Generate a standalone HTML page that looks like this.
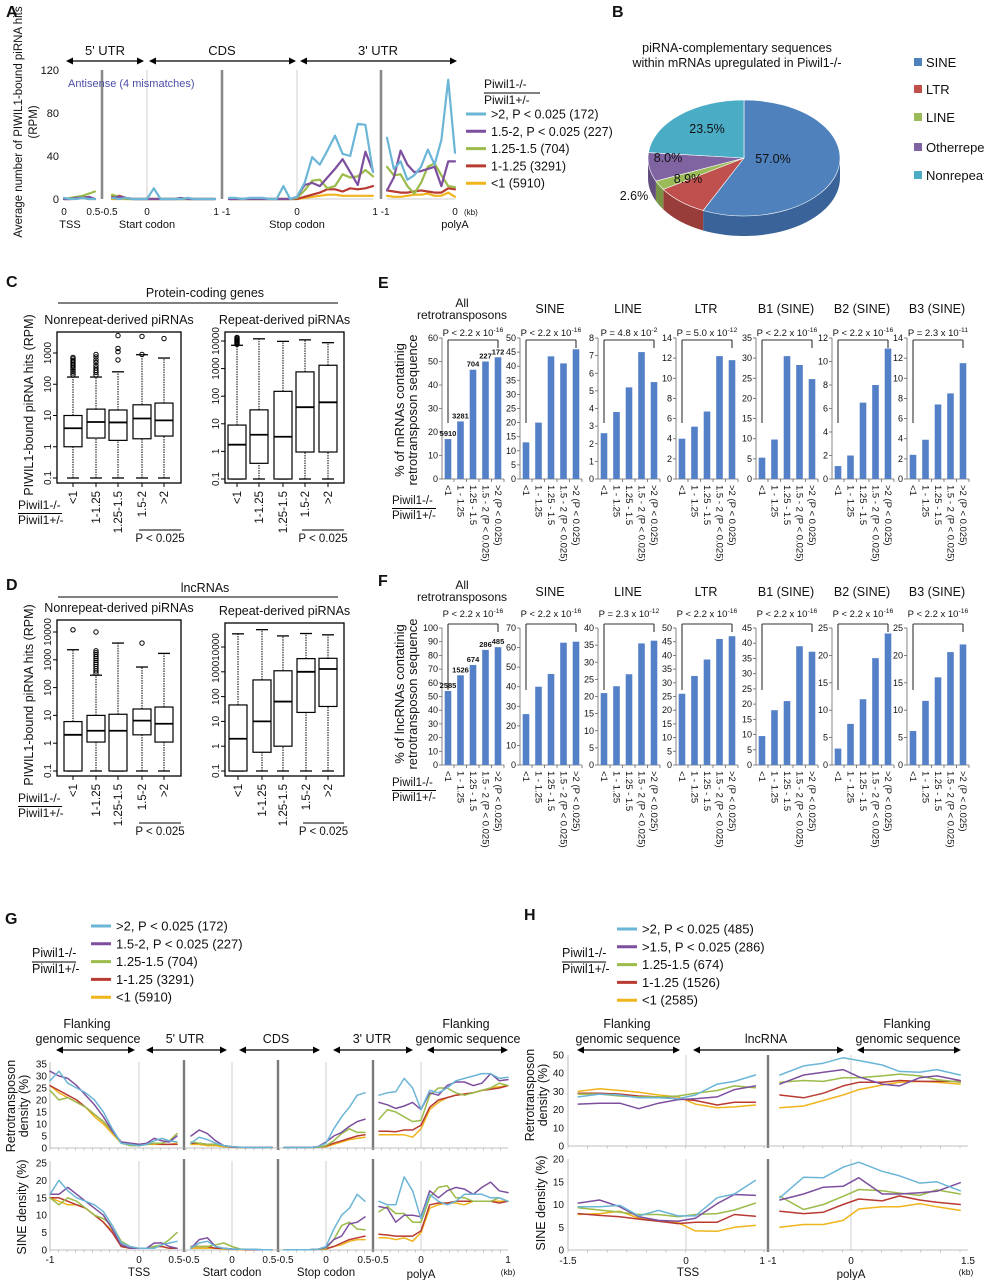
<!DOCTYPE html>
<html><head><meta charset="utf-8">
<style>
body{margin:0;background:#fff}
svg{display:block;font-family:"Liberation Sans",Arial,sans-serif}
</style></head>
<body>
<svg id="fig" width="984" height="1280" viewBox="0 0 984 1280" xmlns="http://www.w3.org/2000/svg">
<rect width="984" height="1280" fill="#ffffff"/>
</svg>
<script>
// ---------------- DATA ----------------
const SERIES_NAMES=['gt2','r1p5-2','r1p25-1p5','r1-1p25','lt1'];
const A_LEGEND=['>2, P < 0.025 (172)','1.5-2, P < 0.025 (227)','1.25-1.5 (704)','1-1.25 (3291)','<1 (5910)'];
const A_X1=[0,0.1,0.2,0.3,0.4,0.5];
const A_X2=[-0.5,-0.4,-0.3,-0.2,-0.1,0];
const A_X3=[0,0.1,0.2,0.3,0.4,0.5,0.6,0.7,0.8,0.9,1];
const A_X4=[-1,-0.9,-0.8,-0.7,-0.6,-0.5,-0.4,-0.3,-0.2,-0.1,0,0.1,0.2,0.3,0.4,0.5,0.6,0.7,0.8,0.9,1];
const A_X5=[-1,-0.9,-0.8,-0.7,-0.6,-0.5,-0.4,-0.3,-0.2,-0.1,0];
const A_GT2=[[1,0,0,1,0,0],[1,0,1,0,0,0],[0,10,0,0,0,0,1,0,0,0,0],[1,1,0,1,1,1,0,0,12,0,2,15,39,32,45,59,42,40,70,69,25],[57,28,35,18,22,30,46,32,55,111,43]];
const A_R15=[[0,0,1,1,2,0],[1,2,1,0,0,0],[0,0,0,0,0,1,0,0,0,0,0],[0,0,0,0,0,0,0,0,0,0,2,13,15,12,20,28,37,25,13,44,26],[8,20,45,32,25,26,28,30,12,35,35]];
const A_R125=[[0,1,2,3,5,7],[4,2,0,0,0,0],[0,0,0,0,0,0,0,0,0,0,0],[0,0,0,0,0,0,0,0,0,0,1,8,17,18,10,12,23,20,21,27,21],[30,22,23,12,5,15,30,33,22,12,11]];
const A_R1=[[0,0,1,2,1,0],[2,3,1,0,0,0],[0,0,0,0,0,0,0,0,0,0,0],[0,0,0,0,0,0,0,0,0,0,0,2,4,6,9,9,7,10,9,10,12],[8,7,6,6,7,8,7,6,6,10,9]];
const A_LT1=[[0,0,1,1,0,0],[0,0,0,0,0,0],[0,0,0,0,0,0,0,0,0,0,0],[0,0,0,0,0,0,0,0,0,0,0,1,2,3,4,4,3,3,3,3,3],[3,2,2,3,4,4,5,3,3,6,2]];
const A_YTICKS=[0,40,80,120];

const B_LABELS=['SINE','LTR','LINE','Otherrepeats','Nonrepeat'];
const B_PCT=[57.0,8.9,2.6,8.0,23.5];

const BOX_CATS=['<1','1-1.25','1.25-1.5','1.5-2','>2'];
const LOG_TICKS_C=[0.1,1,10,100,1000];
const LOG_TICKS_R=[0.1,1,10,100,1000,10000];
const CL_LO=[0.1,0.1,0.1,0.1,0.1], CL_Q1=[1,1.9,1.6,1.8,2.2], CL_MED=[3.9,6.2,6,8,7], CL_Q3=[10,16,15,22,25], CL_HI=[170,170,250,880,690];
const CL_OUT=[[200,230,260,300,340,380,420,470,520,580,650,720],[200,240,280,330,400,500,600,750,900],[600,1100,1400,3600],[900,3400],[2900]];
const CR_LO=[0.1,0.1,0.1,0.1,0.1], CR_Q1=[0.1,0.37,0.1,0.95,0.95], CR_MED=[1.75,4,3.4,40,60], CR_Q3=[9,32,150,760,1320], CR_HI=[7000,12000,9700,11000,8700];
const CR_OUT=[[7600,8300,9000,9800,10600,11500,12500,13500],[],[],[],[]];
const DL_LO=[0.1,0.1,0.1,0.1,0.1], DL_Q1=[0.1,1.1,0.1,2,1.1], DL_MED=[2,2.8,2.8,6.5,5], DL_Q3=[6,10,11,17,20], DL_HI=[2300,280,4000,550,1700];
const DL_OUT=[[12000],[330,400,480,570,680,800,950,1100,1300,1550,1800,2100,10000],[],[4000],[]];
const DR_LO=[0.1,0.1,0.1,0.1,0.1], DR_Q1=[0.1,0.57,1,23,40], DR_MED=[2,10,63,1000,1300], DR_Q3=[46,470,1100,3400,3500], DR_HI=[34000,50000,28000,35000,31000];
const DR_OUT=[[],[],[],[],[]];

const BAR_CATS=['<1','1 - 1.25','1.25 - 1.5','1.5 - 2 (P < 0.025)','>2 (P < 0.025)'];
const E_TITLES=['SINE','LINE','LTR','B1 (SINE)','B2 (SINE)','B3 (SINE)'];
const E_ALL=[17,24.5,46.5,50,51.8];
const E_ALL_COUNTS=['5910','3281','704','227','172'];
const E_SINE=[13,20,43.5,41,46];
const E_LINE=[2.6,3.8,5.2,7.2,5.5];
const E_LTR=[4,5.2,6.7,12.2,11.8];
const E_B1=[5.3,9.8,30.5,28.3,24.8];
const E_B2=[1.1,2,6.5,8,11.1];
const E_B3=[2.4,3.9,7.4,8.5,11.5];
const E_TICKS=[[0,10,20,30,40,50,60],[0,5,10,15,20,25,30,35,40,45,50],[0,1,2,3,4,5,6,7,8],[0,2,4,6,8,10,12,14],[0,5,10,15,20,25,30,35],[0,2,4,6,8,10,12],[0,2,4,6,8,10,12,14]];
const E_P=[['P < 2.2 x 10','-16'],['P < 2.2 x 10','-16'],['P = 4.8 x 10','-2'],['P = 5.0 x 10','-12'],['P < 2.2 x 10','-16'],['P < 2.2 x 10','-16'],['P = 2.3 x 10','-11']];
const F_ALL=[54,65.5,73,84,86];
const F_ALL_COUNTS=['2585','1526','674','286','485'];
const F_SINE=[26,40,46.5,62.5,63];
const F_LINE=[21,23,26.5,35.5,36.3];
const F_LTR=[26,32.5,38.5,46,47];
const F_B1=[9.5,18,21,39,37.2];
const F_B2=[3,7.5,12,19.5,24];
const F_B3=[6.2,11.7,16,20.6,22];
const F_TICKS=[[0,10,20,30,40,50,60,70,80,90,100],[0,10,20,30,40,50,60,70],[0,5,10,15,20,25,30,35,40],[0,5,10,15,20,25,30,35,40,45,50],[0,5,10,15,20,25,30,35,40,45],[0,5,10,15,20,25],[0,5,10,15,20,25]];
const F_P=[['P < 2.2 x 10','-16'],['P < 2.2 x 10','-16'],['P = 2.3 x 10','-12'],['P < 2.2 x 10','-16'],['P < 2.2 x 10','-16'],['P < 2.2 x 10','-16'],['P < 2.2 x 10','-16']];

const G_X1=[-1,-0.9,-0.8,-0.7,-0.6,-0.5,-0.4,-0.3,-0.2,-0.1,0,0.1,0.2,0.3,0.4,0.5];
const G_X23=[-0.5,-0.4,-0.3,-0.2,-0.1,0,0.1,0.2,0.3,0.4,0.5];
const G_X4=[-0.5,-0.4,-0.3,-0.2,-0.1,0,0.1,0.2,0.3,0.4,0.5,0.6,0.7,0.8,0.9,1];
const G_RT_GT2=[[28,32,27,25,23,20,15,8,2,1.5,1,1.5,3,4,3,2.5],[2,4.5,3.5,2,1,0.5,0.3,0.2,0.2,0.2,0.2],[0.2,0.2,0.2,0.2,0.5,2,8,13,17,22,23],[22,23,23.5,29,25,16,24,23,25,28,29,30,31,31,29,29.5]];
const G_RT_R15=[[32,30,29,26,22,18,13,7,2.5,2,1.5,2,4,3,2.5,5],[5,7.5,6,3,1,0.5,0.3,0.2,0.2,0.2,0.3],[0.2,0.2,0.2,0.2,0.5,2.5,5,6.5,9,11,12],[19,18,16.5,17.5,19,16,23,22,26,27.5,27.5,26,27,31,28,28.5]];
const G_RT_R125=[[24,20,21,19,17,14,11,7,2,1,1,1.5,2,2,3,6],[2.5,2,1.5,1.5,1,0.5,0.2,0.2,0.2,0.2,0.2],[0.2,0.2,0.2,0.2,0.3,1,3,6,8,6.5,6.5],[12,16,15,13,11,11.5,22,25,25,23,22,23,24,25,27,26]];
const G_RT_R1=[[26,24,22,20,17,14,11,7,2.5,2,1.5,1.5,2,1.5,1.5,1.5],[2,2,1.5,1.5,1,0.3,0.2,0.2,0.2,0.2,0.2],[0.2,0.2,0.2,0.2,0.3,0.8,2,3,4,5,5.5],[7,7,6.8,7.5,7.5,9.5,17,20,21,22,22.5,23,24,24.5,25,26]];
const G_RT_LT1=[[26,23,21,19,17,13,10,6,2,1.5,1,1.5,1.5,1.5,1.5,2],[1.5,1.5,1,1,0.5,0.3,0.2,0.2,0.2,0.2,0.2],[0.2,0.2,0.2,0.2,0.3,0.6,1.5,2.5,3.5,4,4.5],[5.5,5.5,5.5,5.5,4.5,8,16,19,21,22,22.5,23,24,25,25.5,26]];
const G_SN_GT2=[[16,20,17,15,14,13,11,7,2,1,0.5,0.5,0.5,1.5,2,2.5],[0.5,2,2.5,1,0.5,0.3,0.2,0.2,0.2,0.1,0.1],[0.1,0.1,0.1,0.1,0.2,1,6,10,12,16,14],[14,13,13,21,17,9,16,14,13,14,16,16,16,15,15,14]];
const G_SN_R15=[[16,16,18,16,14,12,10,6,1.5,0.5,0.5,0.5,2,2,1,0.5],[0.5,3,3.5,1,0.5,0.2,0.2,0.2,0.1,0.1,0.1],[0.1,0.1,0.1,0.1,0.2,0.8,3,4,7.5,8,9.5],[12.5,12,8,10,10,9.5,17,15,17,18,17.5,16,18,19.5,17,16.5]];
const G_SN_R125=[[15,13,15,14,12,10,9,7,2.5,1,0.5,0.5,1,1.5,3,5],[1,1,1,1.5,2,1,0.3,0.2,0.1,0.1,0.1],[0.1,0.1,0.1,0.1,0.2,0.5,3,7,8,6,5.8],[11,12.5,10.5,10.5,8,8,15,18,18.5,15,15,14,14,14,15,14]];
const G_SN_R1=[[15,15,14,13,12,10,8,5,1,0.5,0.5,0.5,1,1,0.5,0.5],[1,1,1,0.5,0.5,0.3,0.2,0.1,0.1,0.1,0.1],[0.1,0.1,0.1,0.1,0.2,0.4,1,2,3,3.5,4],[4.5,4.3,4,4,4,5.5,13,13.5,13.5,14,14,14,14,14,13.5,14]];
const G_SN_LT1=[[15,14,13,13,12,10,8,5.5,1,0.5,0.5,0.5,1,1,0.5,0.5],[0.5,0.5,0.5,0.5,0.3,0.2,0.1,0.1,0.1,0.1,0.1],[0.1,0.1,0.1,0.1,0.2,0.3,1,1.5,2.5,3,3],[3.5,3.5,3,3.5,2.5,5,12,13,13.5,13.5,13,14,14,14,14,14]];
const G_RT_TICKS=[0,5,10,15,20,25,30,35];
const G_SN_TICKS=[0,5,10,15,20,25];

const H_LEGEND=['>2, P < 0.025 (485)','>1.5, P < 0.025 (286)','1.25-1.5 (674)','1-1.25 (1526)','<1 (2585)'];
const H_X1=[-1.37,-1.1,-0.84,-0.6,-0.35,-0.1,0.12,0.4,0.62,0.89];
const H_X2=[-0.9,-0.6,-0.35,-0.1,0.1,0.4,0.62,0.88,1.1,1.4];
const H_RT_GT2=[[27,28.5,28,26.5,26.5,26,28,34,35.5,39],[39,44,45.5,48.5,47,44.5,41,40.5,42,39]];
const H_RT_R15=[[23,23.5,23.5,20.5,23.5,25.5,26,27,31,33],[34,39,40.5,42,38,34,33,37.5,38.5,36]];
const H_RT_R125=[[28.5,28.5,27.5,27,27,27.5,29,30.5,33,32],[35,36,35.5,37.5,37.5,38.5,39.5,38.5,36.5,35]];
const H_RT_R1=[[29,29,28.5,27.5,27,26,25,22.5,24,24],[28,26.5,29,33,35,35,36,35.5,35.5,35.5]];
const H_RT_LT1=[[30,31.5,30.5,29.5,28,27,23,21,21.5,22.5],[21,22,25,28,31,33.5,35,35.5,35,34]];
const H_SN_GT2=[[9.5,9.5,9.8,7.5,8.7,7.5,7.5,11.5,12.3,15.3],[11.5,16,15.9,18.2,19.3,17.3,16.3,14.7,15,13]];
const H_SN_R15=[[10.3,11,9.5,7.3,6.5,6.3,7,10.2,12.2,12],[11,12.3,13.8,14,15.9,12.3,12.3,12.6,12.9,14.8]];
const H_SN_R125=[[9.3,8.8,8.3,7.8,7.8,7.3,7.8,8,8.8,10.3],[11.8,8.9,10,11.8,13.3,13,12.5,12,13.2,12.3]];
const H_SN_R1=[[8,7.6,7.3,6.8,6.3,5.8,6.1,6.1,7.8,7.4],[8.5,8,8.3,10,11.2,10.8,11.9,11,10.5,10]];
const H_SN_LT1=[[7.8,8,8.5,7,6.3,6,4.2,4.1,5,5.4],[5,5.6,5.6,6.5,9,9.5,9.5,10.2,9.5,8.7]];
const H_RT_TICKS=[0,10,20,30,40,50];
const H_SN_TICKS=[0,5,10,15,20];

// ---------------- HELPERS ----------------
const NS='http://www.w3.org/2000/svg';
const svg=document.getElementById('fig');
const C5=['#6bb5d6','#7d4f9e','#9bbb4a','#b83a33','#f0b41c'];
const PIE_COLORS=['#4f81bd','#c0504d','#9bbb59','#8064a2','#4bacc6'];
const PIE_SIDE=['#3a6499','#983d3a','#7a9446','#624d7f','#3a8aa1'];
const BAR_COLOR='#5480c8';
function mk(tag,attrs,name,parent){
  const e=document.createElementNS(NS,tag);
  for(const k in attrs) e.setAttribute(k,attrs[k]);
  
  
  (parent||svg).appendChild(e);
  return e;
}
function T(x,y,s,o,name){
  o=o||{};
  const e=mk('text',{x:x,y:y,'font-size':o.fs||11,'text-anchor':o.a||'start',fill:o.fill||'#111','font-weight':o.w||'normal'},name);
  if(o.rot!==undefined) e.setAttribute('transform','rotate('+o.rot+' '+x+' '+y+')');
  e.textContent=s;
  return e;
}
function L(x1,y1,x2,y2,st,sw,name,dash){
  const e=mk('line',{x1:x1,y1:y1,x2:x2,y2:y2,stroke:st||'#000','stroke-width':sw||1},name);
  if(dash) e.setAttribute('stroke-dasharray',dash);
  return e;
}
function arrow(x1,x2,y,name){
  L(x1+5,y,x2-5,y,'#000',1.2,name);
  mk('polygon',{points:x1+','+y+' '+(x1+7)+','+(y-3.5)+' '+(x1+7)+','+(y+3.5),fill:'#000'},name+'-left-head');
  mk('polygon',{points:x2+','+y+' '+(x2-7)+','+(y-3.5)+' '+(x2-7)+','+(y+3.5),fill:'#000'},name+'-right-head');
}
function seg(d,p){
  return function(v){
    for(let i=0;i<d.length-1;i++){
      if(v<=d[i+1]||i===d.length-2) return p[i]+(v-d[i])/(d[i+1]-d[i])*(p[i+1]-p[i]);
    }
  };
}
function poly(xs,ys,xf,yf,color,sw,name){
  const pts=xs.map(function(x,i){return xf(x).toFixed(1)+','+yf(ys[i]).toFixed(1);}).join(' ');
  mk('polyline',{points:pts,fill:'none',stroke:color,'stroke-width':sw,'stroke-linejoin':'round','stroke-linecap':'round'},name);
}
function PT(x,y,base,exp,fs,name){
  const e=T(x,y,base,{fs:fs,a:'middle'},name);
  const ts=document.createElementNS(NS,'tspan');
  ts.setAttribute('dy','-4');
  ts.setAttribute('font-size',String(fs*0.72));
  
  
  ts.textContent=exp;
  e.appendChild(ts);
}
function drawSeries(sets,xsList,scales,yf,sw,prefix){
  for(let s=4;s>=0;s--){
    for(let k=0;k<xsList.length;k++){
      poly(xsList[k],sets[s][k],scales[k],yf,C5[s],sw,prefix+'-'+SERIES_NAMES[s]+'-seg'+(k+1));
    }
  }
}
function legend(x,y0,dy,labels,fs,prefix){
  labels.forEach(function(lb,i){
    const y=y0+i*dy;
    L(x,y,x+20,y,C5[i],3,prefix+'-swatch-'+SERIES_NAMES[i]);
    T(x+25,y+4.5,lb,{fs:fs},prefix+'-label-'+SERIES_NAMES[i]);
  });
}
function ratioLabel(x,y1,y2,w,fs,prefix){
  T(x,y1,'Piwil1-/-',{fs:fs},prefix+'-numerator');
  L(x,(y1+y2)/2-3,x+w,(y1+y2)/2-3,'#000',1,prefix+'-fraction-bar');
  T(x,y2,'Piwil1+/-',{fs:fs},prefix+'-denominator');
}
function letter(x,y,s){T(x,y,s,{fs:16,w:'bold'},'panel-label-'+s.toLowerCase());}

// ---------------- PANEL A ----------------
letter(6,17,'A');
(function(){
  const yf=function(v){return 199-v*(129/120);};
  const sc=[seg([0,0.5],[64,95]),seg([-0.5,0],[112,147]),seg([0,1],[147,215]),seg([-1,0,1],[229,297,373]),seg([-1,0],[387,455])];
  T(22,122,'Average number of PIWIL1-bound piRNA hits',{fs:11.5,a:'middle',rot:-90},'a-y-axis-title');
  T(37,122,'(RPM)',{fs:11.5,a:'middle',rot:-90},'a-y-axis-title-unit');
  A_YTICKS.forEach(function(t){T(59,yf(t)+4,String(t),{fs:11,a:'end'},'a-y-tick-'+t);});
  [[64,95],[112,147],[147,215],[229,373],[387,455]].forEach(function(r,i){L(r[0],199,r[1],199,'#bbb',0.8,'a-x-axis-seg'+(i+1));});
  [102,222,381].forEach(function(x,i){L(x,70,x,199,'#8a8a8a',2.6,'a-segment-break-'+(i+1));});
  [147,297].forEach(function(x,i){L(x,70,x,199,'#cfcfcf',1,'a-landmark-line-'+(i+1));});
  arrow(66,144,61,'a-5utr-arrow'); arrow(149,296,61,'a-cds-arrow'); arrow(300,457,61,'a-3utr-arrow');
  T(105,55,"5' UTR",{fs:13,a:'middle'},'a-5utr-label'); T(222,55,'CDS',{fs:13,a:'middle'},'a-cds-label'); T(378,55,"3' UTR",{fs:13,a:'middle'},'a-3utr-label');
  T(68,87,'Antisense (4 mismatches)',{fs:11,fill:'#4b4ea6'},'a-antisense-note');
  drawSeries([A_GT2,A_R15,A_R125,A_R1,A_LT1],[A_X1,A_X2,A_X3,A_X4,A_X5],sc,yf,2.2,'a-line');
  [[64,'0'],[102,'0.5-0.5'],[147,'0'],[222,'1 -1'],[297,'0'],[381,'1 -1'],[455,'0']].forEach(function(p,i){T(p[0],215,p[1],{fs:10,a:'middle'},'a-x-tick-'+i);});
  T(464,215,'(kb)',{fs:8},'a-x-unit');
  T(70,228,'TSS',{fs:11,a:'middle'},'a-tss-label'); T(147,228,'Start codon',{fs:11,a:'middle'},'a-start-codon-label');
  T(297,228,'Stop codon',{fs:11,a:'middle'},'a-stop-codon-label'); T(455,228,'polyA',{fs:11,a:'middle'},'a-polya-label');
  ratioLabel(484,88,104,56,12,'a-legend-ratio');
  legend(466,114,17.3,A_LEGEND,12.5,'a-legend');
})();

// ---------------- PANEL B ----------------
letter(612,17,'B');
(function(){
  T(737,52,'piRNA-complementary sequences',{fs:12.5,a:'middle'},'b-title-line1');
  T(737,67,'within mRNAs upregulated in Piwil1-/-',{fs:12.5,a:'middle'},'b-title-line2');
  const cx=744,cy=158,rx=96,ry=58,dep=20;
  const P=function(a,dy){const r=a*Math.PI/180;return [cx+rx*Math.cos(r),cy+ry*Math.sin(r)+(dy||0)];};
  let a=-90; const ang=[];
  B_PCT.forEach(function(p){ang.push([a,a+p*3.6]);a+=p*3.6;});
  ang.forEach(function(r,i){
    const s=Math.max(r[0],0),e=Math.min(r[1],180);
    if(e>s){
      const p1=P(s),p2=P(e),p3=P(e,dep),p4=P(s,dep);
      mk('path',{d:'M'+p1+' A'+rx+' '+ry+' 0 0 1 '+p2+' L'+p3+' A'+rx+' '+ry+' 0 0 0 '+p4+' Z',fill:PIE_SIDE[i]},'b-pie-side-'+i);
    }
  });
  ang.forEach(function(r,i){
    const p1=P(r[0]),p2=P(r[1]);const big=(r[1]-r[0])>180?1:0;
    mk('path',{d:'M'+cx+','+cy+' L'+p1+' A'+rx+' '+ry+' 0 '+big+' 1 '+p2+' Z',fill:PIE_COLORS[i],stroke:'#fff','stroke-width':0.6},'b-pie-slice-'+i);
  });
  const LPOS=[[773,163],[688,183],[634,200],[668,162],[707,133]];
  B_PCT.forEach(function(p,i){T(LPOS[i][0],LPOS[i][1],p.toFixed(1)+'%',{fs:12.5,a:'middle'},'b-pie-pct-'+i);});
  B_LABELS.forEach(function(lb,i){
    const y=[62,89,117,147,175][i];
    mk('rect',{x:914,y:y-4,width:8,height:8,fill:PIE_COLORS[i]},'b-legend-swatch-'+i);
    T(926,y+5,lb,{fs:13},'b-legend-label-'+i);
  });
})();

// ---------------- PANELS C & D (boxplots) ----------------
function boxPanel(o){
  const r=o.rect;
  mk('rect',{x:r[0],y:r[1],width:r[2]-r[0],height:r[3]-r[1],fill:'none',stroke:'#000','stroke-width':1.3},o.p+'-frame');
  T((r[0]+r[2])/2,r[1]-8,o.title,{fs:12.5,a:'middle'},o.p+'-title');
  o.ticks.forEach(function(t){
    const y=o.y(t);
    L(r[0]-4,y,r[0],y,'#000',1,o.p+'-y-tick-'+t);
    T(r[0]-6,y,String(t),{fs:10,a:'middle',rot:-90},o.p+'-y-tick-label-'+t);
  });
  o.cats.forEach(function(x,i){
    const hw=9;
    L(x,o.y(o.lo[i]),x,o.y(o.q1[i]),'#000',1,o.p+'-whisker-low-'+i,'1.5,1');
    L(x,o.y(o.q3[i]),x,o.y(o.hi[i]),'#000',1,o.p+'-whisker-high-'+i,'1.5,1');
    L(x-6,o.y(o.lo[i]),x+6,o.y(o.lo[i]),'#000',1.3,o.p+'-cap-low-'+i);
    L(x-6,o.y(o.hi[i]),x+6,o.y(o.hi[i]),'#000',1.3,o.p+'-cap-high-'+i);
    mk('rect',{x:x-hw,y:o.y(o.q3[i]),width:2*hw,height:o.y(o.q1[i])-o.y(o.q3[i]),fill:'#fff',stroke:'#000','stroke-width':1.2},o.p+'-box-'+i);
    L(x-hw,o.y(o.med[i]),x+hw,o.y(o.med[i]),'#000',1.8,o.p+'-median-'+i);
    o.out[i].forEach(function(v,j){mk('circle',{cx:x,cy:o.y(v),r:2.2,fill:'none',stroke:'#000','stroke-width':1},o.p+'-outlier-'+i+'-'+j);});
    L(x,r[3],x,r[3]+4,'#000',1,o.p+'-x-tick-'+i);
    T(x+4,r[3]+8,BOX_CATS[i],{fs:11.5,a:'end',rot:-90},o.p+'-x-label-'+i);
  });
  L(o.cats[3]-3,r[3]+47,r[2],r[3]+47,'#000',1,o.p+'-pvalue-bar');
  T((o.cats[3]-3+r[2])/2,r[3]+59,'P < 0.025',{fs:11.5,a:'middle'},o.p+'-pvalue-label');
}
letter(6,287,'C');
T(205,297,'Protein-coding genes',{fs:12.5,a:'middle'},'c-title');
L(58,303,338,303,'#000',1,'c-title-rule');
T(33,405,'PIWIL1-bound piRNA hits (RPM)',{fs:12.5,a:'middle',rot:-90},'c-y-axis-title');
boxPanel({p:'c-nonrepeat',rect:[57,332,181,483],title:'Nonrepeat-derived piRNAs',ticks:LOG_TICKS_C,y:function(v){return 478-(Math.log10(v)+1)*31.25;},cats:[73,96,118,142,164],lo:CL_LO,q1:CL_Q1,med:CL_MED,q3:CL_Q3,hi:CL_HI,out:CL_OUT});
boxPanel({p:'c-repeat',rect:[225,332,344,483],title:'Repeat-derived piRNAs',ticks:LOG_TICKS_R,y:function(v){return 479-(Math.log10(v)+1)*27.6;},cats:[237,259,283,305,328],lo:CR_LO,q1:CR_Q1,med:CR_MED,q3:CR_Q3,hi:CR_HI,out:CR_OUT});
ratioLabel(18,509,524,44,12,'c-ratio');
letter(6,590,'D');
T(205,592,'lncRNAs',{fs:12.5,a:'middle'},'d-title');
L(58,597,338,597,'#000',1,'d-title-rule');
T(33,695,'PIWIL1-bound piRNA hits (RPM)',{fs:12.5,a:'middle',rot:-90},'d-y-axis-title');
boxPanel({p:'d-nonrepeat',rect:[57,620,181,776],title:'Nonrepeat-derived piRNAs',ticks:LOG_TICKS_R,y:function(v){return 771-(Math.log10(v)+1)*27.8;},cats:[73,96,118,142,164],lo:DL_LO,q1:DL_Q1,med:DL_MED,q3:DL_Q3,hi:DL_HI,out:DL_OUT});
boxPanel({p:'d-repeat',rect:[225,623,344,776],title:'Repeat-derived piRNAs',ticks:LOG_TICKS_R,y:function(v){return 771-(Math.log10(v)+1)*24.8;},cats:[238,262,283,306,328],lo:DR_LO,q1:DR_Q1,med:DR_MED,q3:DR_Q3,hi:DR_HI,out:DR_OUT});
ratioLabel(18,802,817,44,12,'d-ratio');

// ---------------- PANELS E & F (bars) ----------------
const BAR_AXES=[442,520,598,676,756,832,907];
function barRow(o){
  o.sets.forEach(function(vals,k){
    const ax=BAR_AXES[k], ticks=o.ticks[k], mx=ticks[ticks.length-1];
    const yf=function(v){return o.zero-v/mx*(o.zero-o.top);};
    const p=o.p+'-'+k;
    L(ax,o.top,ax,o.zero,'#666',0.8,p+'-y-axis');
    L(ax,o.zero,ax+62,o.zero,'#666',0.8,p+'-x-axis');
    ticks.forEach(function(t){L(ax-3,yf(t),ax,yf(t),'#666',0.8,p+'-y-tick-'+t);T(ax-4,yf(t)+3,String(t),{fs:9,a:'end'},p+'-y-tick-label-'+t);});
    vals.forEach(function(v,i){
      const cx=ax+6+12.5*i;
      mk('rect',{x:cx-3.3,y:yf(v),width:6.6,height:o.zero-yf(v),fill:BAR_COLOR},p+'-bar-'+i);
      L(cx+6,o.zero,cx+6,o.zero+3,'#666',0.8,p+'-x-tick-'+i);
      T(cx-3,o.zero+6,BAR_CATS[i],{fs:9.5,rot:90},p+'-x-label-'+i);
      if(k===0) T(cx,yf(v)-3,o.counts[i],{fs:7.5,a:'middle',w:'bold'},p+'-count-'+i);
    });
    const x1=ax+6,x2=ax+56;
    L(x1,o.br,x2,o.br,'#333',1.1,p+'-bracket-top');
    L(x1,o.br,x1,o.leftEnd,'#333',1.1,p+'-bracket-left');
    L(x2,o.br,x2,o.br+8,'#333',1.1,p+'-bracket-right');
    PT(ax+31,o.br-o.pOff,o.pv[k][0],o.pv[k][1],9.5,p+'-pvalue');
  });
}
letter(378,288,'E');
T(462,307,'All',{fs:12,a:'middle'},'e-title-0a'); T(462,319,'retrotransposons',{fs:12,a:'middle'},'e-title-0b');
E_TITLES.forEach(function(t,i){T(BAR_AXES[i+1]+30,313,t,{fs:12.5,a:'middle'},'e-title-'+(i+1));});
T(404,410,'% of mRNAs contatinig',{fs:13,a:'middle',rot:-90},'e-y-axis-title-1');
T(417,410,'retrotransposon sequence',{fs:13,a:'middle',rot:-90},'e-y-axis-title-2');
barRow({p:'e',sets:[E_ALL,E_SINE,E_LINE,E_LTR,E_B1,E_B2,E_B3],ticks:E_TICKS,top:338,zero:479,br:340,pOff:4,leftEnd:423,pv:E_P,counts:E_ALL_COUNTS});
ratioLabel(392,504,519,44,11.5,'e-ratio');
letter(378,586,'F');
T(462,589,'All',{fs:12,a:'middle'},'f-title-0a'); T(462,601,'retrotransposons',{fs:12,a:'middle'},'f-title-0b');
E_TITLES.forEach(function(t,i){T(BAR_AXES[i+1]+30,596,t,{fs:12.5,a:'middle'},'f-title-'+(i+1));});
T(404,694,'% of lncRNAs contatinig',{fs:13,a:'middle',rot:-90},'f-y-axis-title-1');
T(417,694,'retrotransposon sequence',{fs:13,a:'middle',rot:-90},'f-y-axis-title-2');
barRow({p:'f',sets:[F_ALL,F_SINE,F_LINE,F_LTR,F_B1,F_B2,F_B3],ticks:F_TICKS,top:628,zero:765,br:624,pOff:7,leftEnd:690,pv:F_P,counts:F_ALL_COUNTS});
ratioLabel(392,786,801,44,11.5,'f-ratio');

// ---------------- PANEL G ----------------
letter(5,924,'G');
(function(){
  ratioLabel(32,957,973,44,12.5,'g-ratio');
  legend(91,926,17.8,A_LEGEND,13,'g-legend');
  T(87,1028,'Flanking',{fs:12.5,a:'middle'},'g-flank-left-1'); T(88,1043,'genomic sequence',{fs:12.5,a:'middle'},'g-flank-left-2');
  T(185,1043,"5' UTR",{fs:12.5,a:'middle'},'g-5utr-label'); T(276,1043,'CDS',{fs:12.5,a:'middle'},'g-cds-label');
  T(372,1043,"3' UTR",{fs:12.5,a:'middle'},'g-3utr-label');
  T(466,1028,'Flanking',{fs:12.5,a:'middle'},'g-flank-right-1'); T(468,1043,'genomic sequence',{fs:12.5,a:'middle'},'g-flank-right-2');
  arrow(56,135,1050,'g-flank-left-arrow'); arrow(146,227,1050,'g-5utr-arrow'); arrow(239,320,1050,'g-cds-arrow'); arrow(333,413,1050,'g-3utr-arrow'); arrow(427,508,1050,'g-flank-right-arrow');
  const sc=[seg([-1,0,0.5],[50,139,177]),seg([-0.5,0,0.5],[191,232,272]),seg([-0.5,0,0.5],[284,326,365]),seg([-0.5,0,1],[379,421,508])];
  const yT=function(v){return 1148-v*(84/35);}, yB=function(v){return 1250-v*(87/25);};
  [[1062,1148],[1161,1250]].forEach(function(r,i){
    [139,232,326,421].forEach(function(x,j){L(x,r[0],x,r[1],'#cfcfcf',1,'g-landmark-'+i+'-'+j);});
    [184,278,373].forEach(function(x,j){L(x,r[0]-2,x,r[1]+2,'#7a7a7a',2.4,'g-break-'+i+'-'+j);});
    L(50,r[1],508,r[1],'#aaa',0.8,'g-x-axis-'+i);
    L(50,r[0],50,r[1],'#aaa',0.8,'g-y-axis-'+i);
    for(let x=50;x<=508;x+=8.5){L(x,r[1],x,r[1]+2.5,'#aaa',0.6,'g-minor-tick');}
  });
  G_RT_TICKS.forEach(function(t){T(47,yT(t)+3.5,String(t),{fs:10,a:'end'},'g-rt-y-tick-'+t);});
  G_SN_TICKS.forEach(function(t){T(47,yB(t)+3.5,String(t),{fs:10,a:'end'},'g-sine-y-tick-'+t);});
  T(15,1106,'Retrotransposon',{fs:12.5,a:'middle',rot:-90},'g-rt-y-title-1'); T(28,1106,'density (%)',{fs:12.5,a:'middle',rot:-90},'g-rt-y-title-2');
  T(26,1207,'SINE density (%)',{fs:12.5,a:'middle',rot:-90},'g-sine-y-title');
  const xs=[G_X1,G_X23,G_X23,G_X4];
  drawSeries([G_RT_GT2,G_RT_R15,G_RT_R125,G_RT_R1,G_RT_LT1],xs,sc,yT,1.5,'g-rt-line');
  drawSeries([G_SN_GT2,G_SN_R15,G_SN_R125,G_SN_R1,G_SN_LT1],xs,sc,yB,1.5,'g-sine-line');
  [[50,'-1'],[139,'0'],[184,'0.5-0.5'],[232,'0'],[278,'0.5-0.5'],[326,'0'],[373,'0.5-0.5'],[421,'0'],[508,'1']].forEach(function(p,i){T(p[0],1263,p[1],{fs:10,a:'middle'},'g-x-tick-'+i);});
  T(139,1276,'TSS',{fs:11.5,a:'middle'},'g-tss-label'); T(232,1276,'Start codon',{fs:11.5,a:'middle'},'g-start-label');
  T(326,1276,'Stop codon',{fs:11.5,a:'middle'},'g-stop-label'); T(421,1278,'polyA',{fs:11.5,a:'middle'},'g-polya-label');
  T(508,1275,'(kb)',{fs:8.5,a:'middle'},'g-x-unit');
})();

// ---------------- PANEL H ----------------
letter(524,920,'H');
(function(){
  ratioLabel(562,957,973,44,12.5,'h-ratio');
  legend(617,929,17.8,H_LEGEND,13,'h-legend');
  T(627,1028,'Flanking',{fs:12.5,a:'middle'},'h-flank-left-1'); T(628,1043,'genomic sequence',{fs:12.5,a:'middle'},'h-flank-left-2');
  T(766,1043,'lncRNA',{fs:12.5,a:'middle'},'h-lncrna-label');
  T(907,1028,'Flanking',{fs:12.5,a:'middle'},'h-flank-right-1'); T(908,1043,'genomic sequence',{fs:12.5,a:'middle'},'h-flank-right-2');
  arrow(577,680,1050,'h-flank-left-arrow'); arrow(693,844,1050,'h-lncrna-arrow'); arrow(857,961,1050,'h-flank-right-arrow');
  const sc=[seg([-1.5,0,1],[568,686,764]),seg([-1,0,1.5],[772,851,968])];
  const yT=function(v){return 1146-v*(91/50);}, yB=function(v){return 1250-v*(91/20);};
  [[1055,1146],[1159,1250]].forEach(function(r,i){
    [686,851].forEach(function(x,j){L(x,r[0],x,r[1],'#cfcfcf',1,'h-landmark-'+i+'-'+j);});
    L(768,r[0],768,r[1]+2,'#7a7a7a',2.4,'h-break-'+i);
    L(568,r[1],968,r[1],'#aaa',0.8,'h-x-axis-'+i);
    L(568,r[0],568,r[1],'#aaa',0.8,'h-y-axis-'+i);
    for(let x=568;x<=968;x+=19.6){L(x,r[1],x,r[1]+2.5,'#aaa',0.6,'h-minor-tick');}
  });
  H_RT_TICKS.forEach(function(t){T(564,yT(t)+3.5,String(t),{fs:10,a:'end'},'h-rt-y-tick-'+t);});
  H_SN_TICKS.forEach(function(t){T(564,yB(t)+3.5,String(t),{fs:10,a:'end'},'h-sine-y-tick-'+t);});
  T(534,1095,'Retrotransposon',{fs:12.5,a:'middle',rot:-90},'h-rt-y-title-1'); T(547,1095,'density (%)',{fs:12.5,a:'middle',rot:-90},'h-rt-y-title-2');
  T(545,1203,'SINE density (%)',{fs:12.5,a:'middle',rot:-90},'h-sine-y-title');
  const xs=[H_X1,H_X2];
  drawSeries([H_RT_GT2,H_RT_R15,H_RT_R125,H_RT_R1,H_RT_LT1],xs,sc,yT,1.5,'h-rt-line');
  drawSeries([H_SN_GT2,H_SN_R15,H_SN_R125,H_SN_R1,H_SN_LT1],xs,sc,yB,1.5,'h-sine-line');
  [[568,'-1.5'],[686,'0'],[768,'1 -1'],[851,'0'],[968,'1.5']].forEach(function(p,i){T(p[0],1264,p[1],{fs:10,a:'middle'},'h-x-tick-'+i);});
  T(688,1276,'TSS',{fs:11.5,a:'middle'},'h-tss-label'); T(851,1278,'polyA',{fs:11.5,a:'middle'},'h-polya-label');
  T(966,1275,'(kb)',{fs:8.5,a:'middle'},'h-x-unit');
})();
</script>
</body></html>
